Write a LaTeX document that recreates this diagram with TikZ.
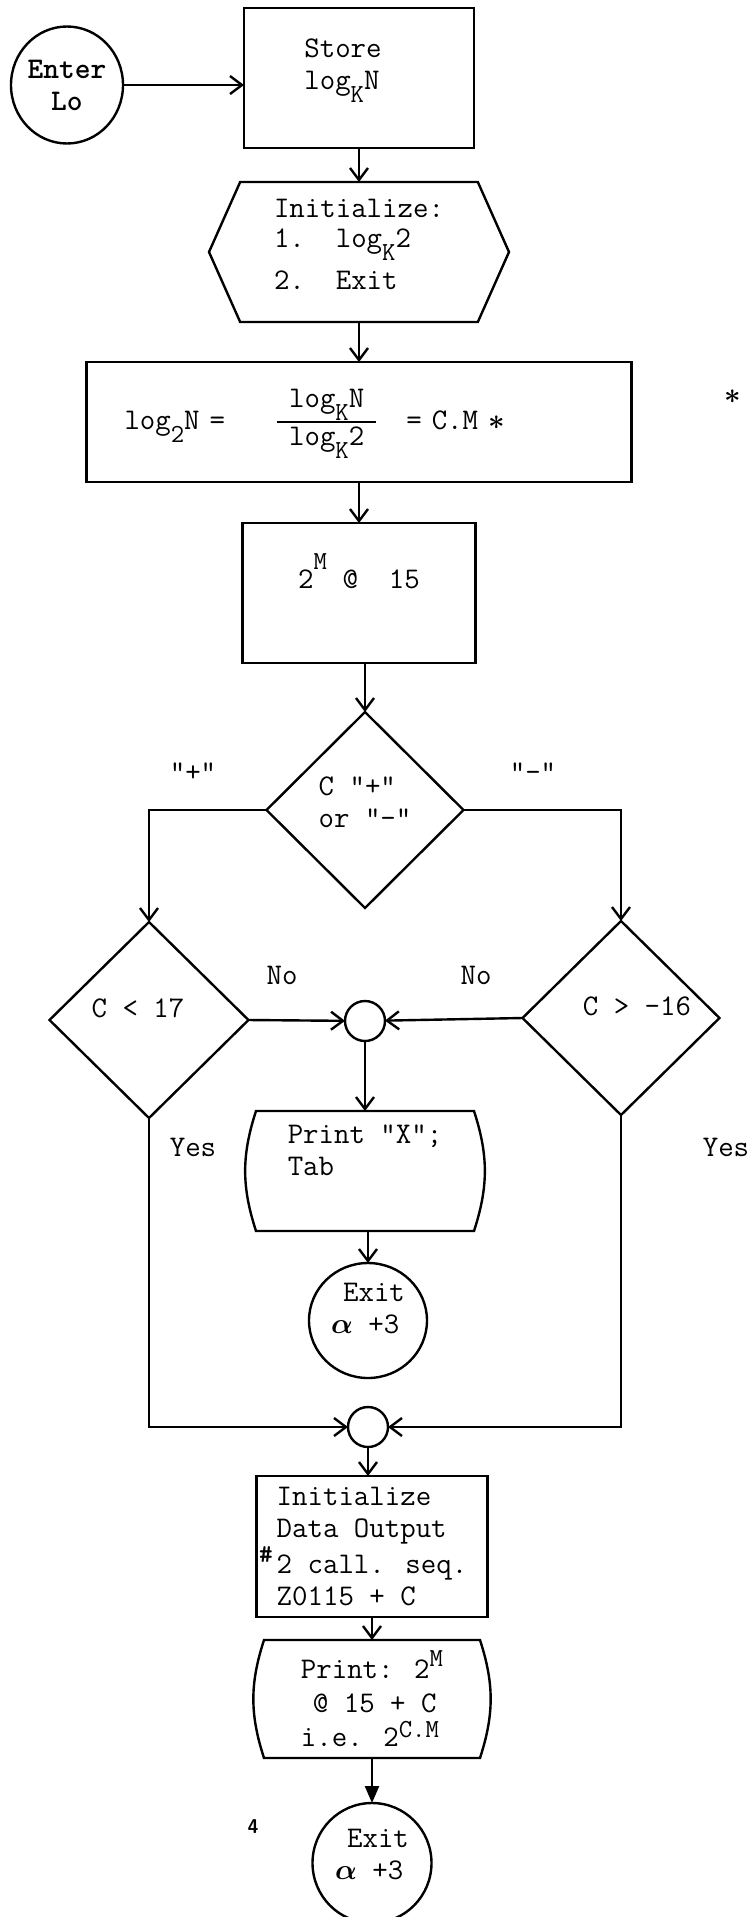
\documentclass[tikz,border=0pt]{standalone}
\usepackage{tikz}
\usetikzlibrary{arrows.meta,positioning,shapes.geometric,shapes.symbols}
\newcommand{\exitalpha}{{\boldmath$\alpha$}}
\newcommand{\starmark}{{\boldmath$\ast$}}
\newcommand{\lsub}[1]{\raisebox{-0.43em}{\fontsize{13}{13}\selectfont #1}}
\newcommand{\lsup}[2][0.5em]{\raisebox{#1}{\fontsize{13}{13}\selectfont #2}}

\begin{document}
\begin{tikzpicture}[
  x=0.5pt, y=-0.5pt,
  every node/.style={font=\ttfamily\fontsize{15}{16}\selectfont, inner sep=0pt, outer sep=0pt, line width=1.2pt},
  procbox/.style={draw, rectangle, align=left},
  prepbox/.style={draw, signal, signal to=west and east, signal pointer angle=132, align=left},
  decision/.style={draw, diamond, align=left, minimum width=98.5pt, minimum height=98pt},
  terminal/.style={draw, ellipse, align=left},
  connector/.style={draw, circle, minimum size=20pt},
  display/.style={rectangle, align=left},
  arrow/.style={-{Straight Barb[length=6pt,width=9pt]}, line width=1.2pt},
  arrowfill/.style={-{Triangle[length=8.5pt,width=7pt]}, line width=1.2pt}
]
\useasboundingbox (0,0) rectangle (749,1917);

% main column
\node[procbox, minimum width=115pt, minimum height=70pt, text depth=14pt] (store) at (359,78) {Store\hspace*{16pt}\\log\lsub{K}N};
\node[terminal, font=\ttfamily\bfseries\fontsize{15}{16}\selectfont, align=center, minimum width=56pt, minimum height=58.5pt, left=60.5pt of store, yshift=-3.5pt] (enter) {Enter\\Lo};
\node[prepbox, minimum width=150pt, minimum height=70pt, text depth=8pt, below=17pt of store] (init) {Initialize:\\[-1pt]1.~~log\lsub{K}2\\[5pt]2.~~Exit};
\node[procbox, minimum width=272.5pt, minimum height=60pt, text width=234.5pt, inner xsep=19pt, below=20pt of init] (formula) {log\lsub{2}N =\hspace*{26pt}{\setlength{\arrayrulewidth}{1.2pt}\begin{tabular}{@{\hspace{6pt}}c@{\hspace{6pt}}}log\lsub{K}N\\\hline log\lsub{K}2\end{tabular}}\hspace*{15pt}= C.M \starmark};
\node[procbox, minimum width=116.5pt, minimum height=70pt, text depth=22pt, below=20.5pt of formula] (pow) {2\lsup[0.65em]{M}~@~~15};
\node[decision, text depth=8pt, below=24.5pt of pow, xshift=3pt] (sign) {C "+"\\or "-"};
\node[decision, minimum width=99.5pt, text depth=12pt, below=7pt of sign, xshift=-108pt] (cless) {C < 17\hspace*{11pt}};
\node[decision, minimum height=97pt, text depth=12pt, below=6.5pt of sign, xshift=128pt] (cgt) {\hspace*{16pt}C > -16};
\node[connector, below=46.5pt of sign] (j1) {};
\node[display, minimum width=109pt, minimum height=60pt, text depth=21pt, below=35pt of j1] (printx) {Print "X";\\Tab};
\node[terminal, minimum width=59pt, minimum height=57.5pt, text depth=12pt, below=16pt of printx, xshift=1.5pt] (exit1) {\hspace*{6pt}Exit\\\exitalpha~+3};
\node[connector, below=14.5pt of exit1] (j2) {};
\node[procbox, minimum width=115.5pt, minimum height=70.5pt, below=14.5pt of j2, xshift=2pt] (dataout) {Initialize\\Data Output\\\llap{\lsup[0.35em]{\bfseries\#}\hspace{2pt}}2 call. seq.\\Z0115 + C};
\node[display, minimum width=108pt, minimum height=59pt, below=11.5pt of dataout] (printm) {Print: 2\lsup[0.4em]{M}\\[1pt]\hspace*{6pt}@ 15 + C\\[1pt]i.e. 2\lsup[0.3em]{C.M}};
\node[terminal, minimum width=59.5pt, minimum height=60pt, text depth=9pt, below=22.5pt of printm] (exit2) {\hspace*{6pt}Exit\\\exitalpha~+3};

% display outlines
\foreach \n in {printx,printm}
  \draw[line width=1.2pt] (\n.north west) to[bend right=18] (\n.south west) -- (\n.south east) to[bend right=18] (\n.north east) -- cycle;

% labels
\node (note) at (733,397) {\starmark};
\node (plus) at (193,772) {"+"};
\node (minus) at (533,772) {"-"};
\node (noleft) at (282,975) {No};
\node (noright) at (476,975) {No};
\node (yesleft) at (193,1147) {Yes};
\node (yesright) at (726,1147) {Yes};
\node[font=\sffamily\bfseries\fontsize{10}{12}\selectfont] (pagenum) at (253,1827) {4};

% connectors
\draw[arrow] (enter) -- (enter -| store.west);
\draw[arrow] (store) -- (init);
\draw[arrow] (init) -- (formula);
\draw[arrow] (formula) -- (pow);
\draw[arrow] (pow.south -| sign.north) -- (sign.north);
\draw[arrow] (sign.west) -| (cless.north);
\draw[arrow] (sign.east) -| (cgt.north);
\draw[arrow] (cless.east) -- (j1);
\draw[arrow] (cgt.west) -- (j1);
\draw[arrow] (j1) -- (printx);
\draw[arrow] (printx.south -| exit1.north) -- (exit1.north);
\draw[arrow] (cless.south) |- (j2);
\draw[arrow] (cgt.south) |- (j2);
\draw[arrow] (j2) -- (dataout.north -| j2);
\draw[arrow] (dataout) -- (printm);
\draw[arrowfill] (printm) -- (exit2);
\end{tikzpicture}
\end{document}
